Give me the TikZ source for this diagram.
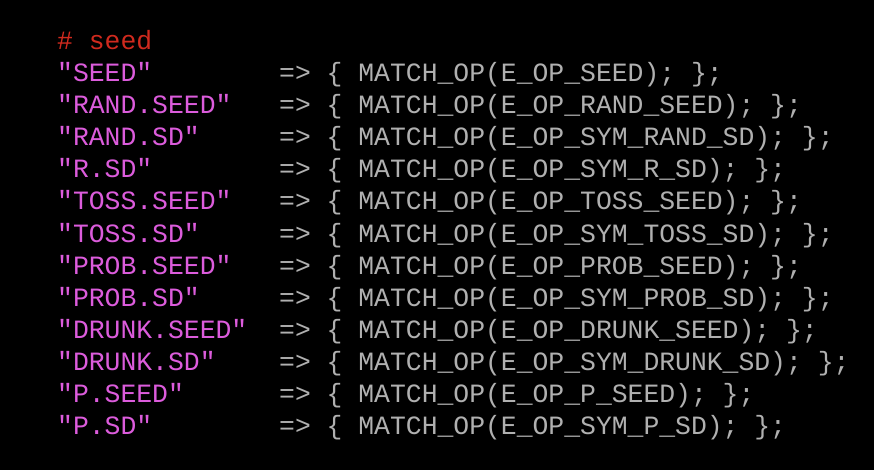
\documentclass[tikz,border=0pt]{standalone}
\usepackage{fontspec}
\setmonofont{Liberation Mono}
\definecolor{cred}{HTML}{D02A1E}
\definecolor{cmag}{HTML}{DC5CDC}
\definecolor{cgray}{HTML}{B0B0B0}
\begin{document}
\begin{tikzpicture}[x=1pt,y=-1pt,
  ln/.style={anchor=base west,inner sep=0pt,font=\fontsize{26.4}{32}\selectfont\ttfamily}]
\fill[black] (0,0) rectangle (874,470);
\useasboundingbox (0,0) rectangle (874,470);
\node[ln,text=cred] (c) at (57,50) {\# seed};
\foreach \s/\o [count=\i] in {
 SEED/{E\_OP\_SEED},
 RAND.SEED/{E\_OP\_RAND\_SEED},
 RAND.SD/{E\_OP\_SYM\_RAND\_SD},
 R.SD/{E\_OP\_SYM\_R\_SD},
 TOSS.SEED/{E\_OP\_TOSS\_SEED},
 TOSS.SD/{E\_OP\_SYM\_TOSS\_SD},
 PROB.SEED/{E\_OP\_PROB\_SEED},
 PROB.SD/{E\_OP\_SYM\_PROB\_SD},
 DRUNK.SEED/{E\_OP\_DRUNK\_SEED},
 DRUNK.SD/{E\_OP\_SYM\_DRUNK\_SD},
 P.SEED/{E\_OP\_P\_SEED},
 P.SD/{E\_OP\_SYM\_P\_SD}}{
  \node[ln,text=cmag] (s\i) at (57,50+32*\i) {"\s"};
  \node[ln,text=cgray] (o\i) at (279,50+32*\i) {=> \{ MATCH\_OP(\o); \};};
}
\end{tikzpicture}
\end{document}
